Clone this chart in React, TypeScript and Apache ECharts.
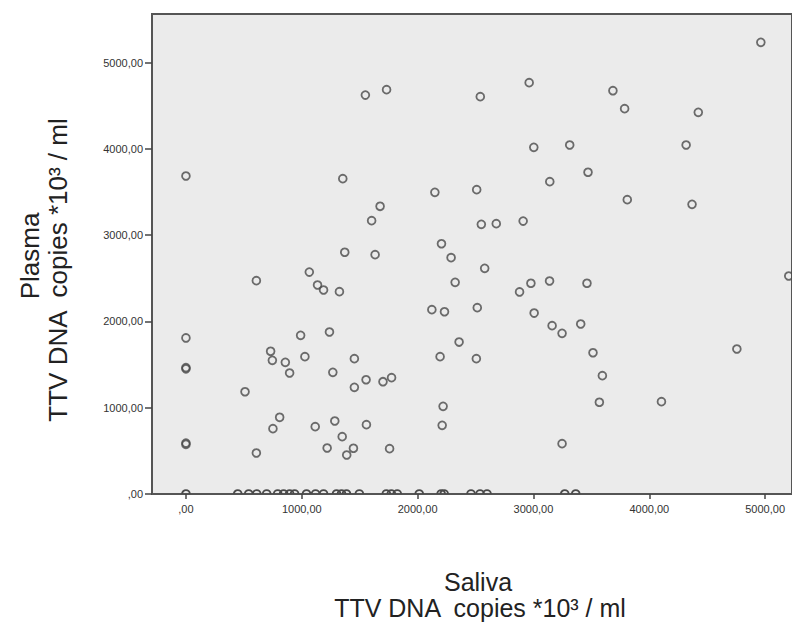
import React, { useEffect, useRef } from "react";
import * as echarts from "echarts";

// Saliva (x) and Plasma (y), TTV DNA copies *10^3 / ml
const saliva: number[] = [
  0, 0, 0, 0, 0, 0,
  608, 1065, 1136, 1188, 1325, 1371,
  990, 1239, 731, 746, 858, 895, 1027, 1268,
  510, 809, 751, 1116, 1285, 1349, 1219, 608, 1388, 1446,
  1354, 1549, 1732, 2541, 2963, 3003, 3313, 3471,
  2149, 2510, 3141, 1676, 1603, 2550, 2679, 2911,
  1633, 2206, 2289, 2579, 2324, 2880, 2978, 3139, 3462,
  2123, 2232, 2515, 3006, 3161, 3247, 3408, 3514,
  2358, 2194, 2507, 1454, 1454, 1555, 1701, 1775,
  2220, 2212, 1558, 1758, 3247,
  4963, 3686, 3787, 4423, 4318, 3810, 4369,
  3595, 3569, 4105, 4756, 5204,
];
const plasma: number[] = [
  3685, 1808, 1465, 1450, 590, 575,
  2472, 2572, 2422, 2364, 2344, 2801,
  1839, 1877, 1654, 1549, 1526, 1402, 1591, 1410,
  1185, 889, 757, 780, 846, 664, 533, 475, 452, 530,
  3654, 4623, 4685, 4604, 4766, 4017, 4044, 3728,
  3496, 3526, 3619, 3334, 3167, 3125, 3132, 3163,
  2773, 2900, 2738, 2615, 2453, 2341, 2442, 2468, 2442,
  2136, 2112, 2159, 2097, 1950, 1862, 1970, 1637,
  1761, 1591, 1568, 1568, 1236, 1324, 1301, 1348,
  1016, 796, 803, 525, 583,
  5234, 4673, 4465, 4423, 4044, 3410, 3357,
  1371, 1063, 1070, 1680, 2526,
];
// Saliva values of cases whose plasma value is 0
const salivaPlasmaZero: number[] = [
  0, 447, 542, 611, 697, 792, 843, 895, 938, 1041, 1119, 1188, 1300, 1343,
  1386, 1497, 1730, 1773, 1824, 2014, 2203, 2229, 2461, 2539, 2599, 3270, 3365,
];

const xTicks: number[] = [0, 1000, 2000, 3000, 4000, 5000];
const yTicks: number[] = [0, 1000, 2000, 3000, 4000, 5000];

const fmt = (v: number) => (v === 0 ? ",00" : `${v},00`);

const MARK_COLOR = "#4a4a4a";
const MARK_R = 3.9;

export default function App() {
  const ref = useRef<HTMLDivElement>(null);
  useEffect(() => {
    if (!ref.current) return;
    const chart = echarts.init(ref.current, undefined, { renderer: "svg" });
    const pts: number[][] = saliva.map((s, i) => [s, plasma[i]]);
    const zeroPts: number[][] = salivaPlasmaZero.map((s) => [s, 0]);
    const font = "'Liberation Sans', Arial, sans-serif";
    chart.setOption({
      animation: false,
      backgroundColor: "#ffffff",
      grid: {
        show: true,
        left: 152,
        top: 14,
        width: 642,
        height: 480,
        backgroundColor: "#ebebeb",
        borderColor: "#555555",
        borderWidth: 2,
      },
      xAxis: {
        type: "value",
        min: -293,
        max: 5232,
        axisLine: { show: true, onZero: false, lineStyle: { color: "#555555", width: 2 } },
        axisTick: {
          show: true,
          length: 5,
          customValues: xTicks,
          lineStyle: { color: "#444444", width: 1.5 },
        },
        axisLabel: {
          customValues: xTicks,
          formatter: fmt,
          margin: 9,
          fontSize: 11,
          color: "#333333",
          fontFamily: font,
        },
        splitLine: { show: false },
      },
      yAxis: {
        type: "value",
        min: 0,
        max: 5562,
        axisLine: { show: true, onZero: false, lineStyle: { color: "#555555", width: 2 } },
        axisTick: {
          show: true,
          length: 7,
          customValues: yTicks,
          lineStyle: { color: "#444444", width: 1.5 },
        },
        axisLabel: {
          customValues: yTicks,
          formatter: fmt,
          margin: 9,
          fontSize: 11,
          color: "#333333",
          fontFamily: font,
        },
        splitLine: { show: false },
      },
      series: [
        {
          type: "scatter",
          data: pts,
          symbol: "circle",
          symbolSize: MARK_R * 2,
          itemStyle: {
            color: "rgba(0,0,0,0)",
            borderColor: MARK_COLOR,
            borderWidth: 1.8,
          },
          z: 3,
        },
        {
          type: "custom",
          data: zeroPts,
          z: 3,
          renderItem: (params: any, api: any) => {
            const p = api.coord([api.value(0), api.value(1)]);
            return {
              type: "arc",
              shape: {
                cx: p[0],
                cy: p[1],
                r: MARK_R,
                startAngle: Math.PI,
                endAngle: Math.PI * 2,
                clockwise: true,
              },
              style: { stroke: MARK_COLOR, lineWidth: 1.8, fill: "none" },
            };
          },
        },
      ],
      graphic: [
        {
          type: "text",
          x: 478,
          y: 582,
          style: {
            text: "Saliva",
            font: `25px ${font}`,
            fill: "#222222",
            textAlign: "center",
            textVerticalAlign: "middle",
          },
        },
        {
          type: "text",
          x: 480,
          y: 608,
          style: {
            text: "TTV DNA  copies *10³ / ml",
            font: `25px ${font}`,
            fill: "#222222",
            textAlign: "center",
            textVerticalAlign: "middle",
          },
        },
        {
          type: "text",
          x: 30,
          y: 256,
          rotation: Math.PI / 2,
          style: {
            text: "Plasma",
            font: `26px ${font}`,
            fill: "#222222",
            textAlign: "center",
            textVerticalAlign: "middle",
          },
        },
        {
          type: "text",
          x: 58,
          y: 270,
          rotation: Math.PI / 2,
          style: {
            text: "TTV DNA  copies *10³ / ml",
            font: `26px ${font}`,
            fill: "#222222",
            textAlign: "center",
            textVerticalAlign: "middle",
          },
        },
      ],
    });
    return () => chart.dispose();
  }, []);
  return (
    <div
      ref={ref}
      style={{ position: "fixed", left: 0, top: 0, width: 792, height: 625 }}
    />
  );
}
